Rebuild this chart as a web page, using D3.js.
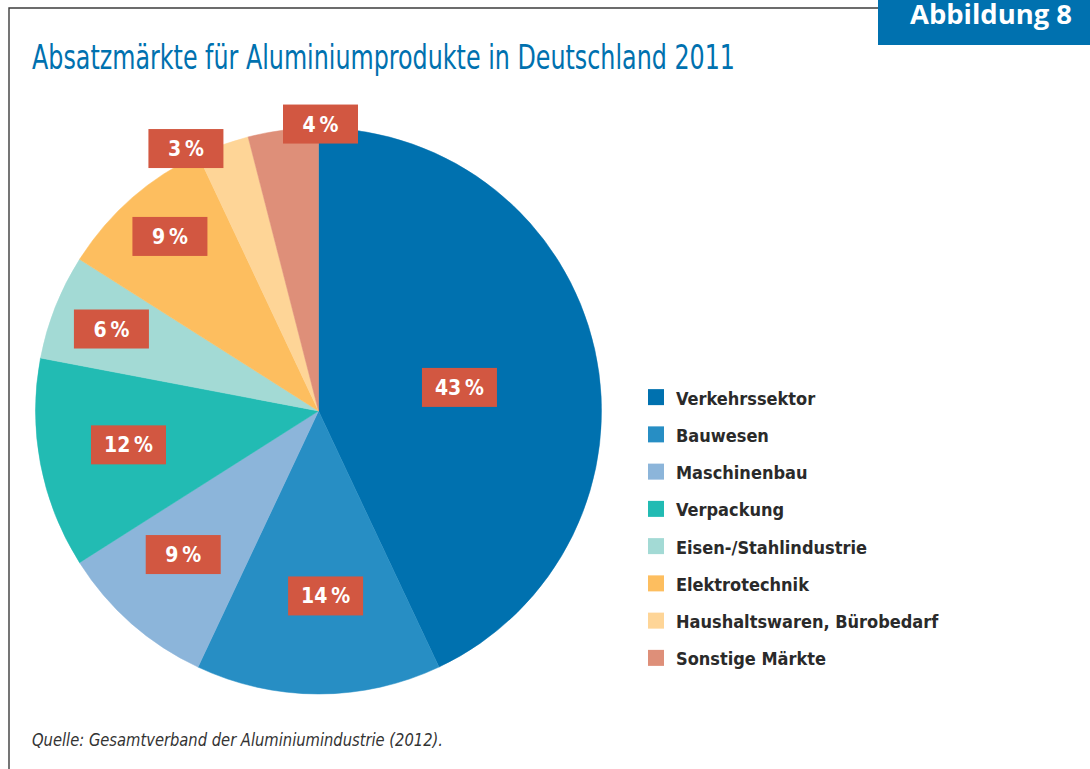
<!DOCTYPE html>
<html>
<head>
<meta charset="utf-8">
<script src="https://cdn.jsdelivr.net/npm/d3@7"></script>
<style>
  html, body { margin: 0; padding: 0; background: #fff; }
  svg { display: block; }
</style>
</head>
<body>
<svg id="chart" width="1090" height="769"></svg>
<script>
// ---- Data ----
const categories = [
  "Verkehrssektor",
  "Bauwesen",
  "Maschinenbau",
  "Verpackung",
  "Eisen-/Stahlindustrie",
  "Elektrotechnik",
  "Haushaltswaren, Bürobedarf",
  "Sonstige Märkte"
];
const values = [43, 14, 9, 12, 6, 9, 3, 4];
const colors = ["#0071AF", "#278EC4", "#8CB5DA", "#22BBB3", "#A3DAD5", "#FDBE5F", "#FED597", "#DE8F79"];
const titleText = "Absatzmärkte für Aluminiumprodukte in Deutschland 2011";
const sourceText = "Quelle: Gesamtverband der Aluminiumindustrie (2012).";
const figureText = "Abbildung 8";

// ---- Layout (label placement, fraction of radius / angle shift in degrees) ----
const labelRadius = [0.505, 0.654, 0.697, 0.682, 0.787, 0.81, 1.039, 1.014];
const labelAngleShift = [3.1, -2.2, 1.9, 0.7, 0, 1.0, -7, 7.6];

const svg = d3.select("#chart");
const cx = 318.5, cy = 411, R = 283;
const condensed = "'Liberation Sans Narrow', 'DejaVu Sans Condensed', 'Open Sans', sans-serif";

// Frame
svg.append("path")
  .attr("d", `M9,769 L9,8 L878,8`)
  .attr("fill", "none")
  .attr("stroke", "#3c3c3c")
  .attr("stroke-width", 1.4);

// Figure tag
svg.append("rect").attr("x", 878).attr("y", 0).attr("width", 212).attr("height", 45).attr("fill", "#0071AF");
svg.append("text")
  .attr("x", 910).attr("y", 24)
  .attr("font-family", "'Open Sans', sans-serif")
  .attr("font-weight", "bold")
  .attr("font-size", 26)
  .attr("fill", "#fff")
  .attr("textLength", 162)
  .attr("lengthAdjust", "spacingAndGlyphs")
  .text(figureText);

// Title
svg.append("text")
  .attr("x", 32).attr("y", 69)
  .attr("font-family", condensed)
  .attr("font-size", 33)
  .attr("fill", "#0071AF")
  .attr("textLength", 703)
  .attr("lengthAdjust", "spacingAndGlyphs")
  .text(titleText);

// Pie
const pie = d3.pie().sort(null).value(d => d.value);
const arcs = pie(values.map((v, i) => ({ value: v, name: categories[i], color: colors[i] })));
const arc = d3.arc().innerRadius(0).outerRadius(R);
const g = svg.append("g").attr("transform", `translate(${cx},${cy})`);

g.selectAll("path.slice")
  .data(arcs)
  .join("path")
  .attr("class", "slice")
  .attr("d", arc)
  .attr("fill", d => d.data.color)
  .attr("stroke", d => d.data.color)
  .attr("stroke-width", 0.5);

// Labels
const boxW = 75, boxH = 39;
const lbl = g.selectAll("g.lbl")
  .data(arcs)
  .join("g")
  .attr("class", "lbl")
  .attr("transform", (d, i) => {
    const a = (d.startAngle + d.endAngle) / 2 + labelAngleShift[i] * Math.PI / 180;
    const r = R * labelRadius[i];
    return `translate(${r * Math.sin(a)},${-r * Math.cos(a)})`;
  });
lbl.append("rect")
  .attr("x", -boxW / 2).attr("y", -boxH / 2)
  .attr("width", boxW).attr("height", boxH)
  .attr("fill", "#D25741");
lbl.append("text")
  .attr("text-anchor", "middle")
  .attr("y", 7.5)
  .attr("font-family", condensed)
  .attr("font-weight", "bold")
  .attr("font-size", 21)
  .attr("fill", "#fff")
  .text(d => `${d.data.value}\u2009%`);

// Legend
const legY = d3.scaleBand().domain(categories).range([379, 677]);
const leg = svg.append("g").selectAll("g")
  .data(categories)
  .join("g")
  .attr("transform", d => `translate(648,${legY(d) + legY.bandwidth() / 2})`);
leg.append("rect")
  .attr("x", 0).attr("y", -8.5)
  .attr("width", 16).attr("height", 16)
  .attr("fill", (d, i) => colors[i]);
leg.append("text")
  .attr("x", 28).attr("y", 7)
  .attr("font-family", condensed)
  .attr("font-weight", "bold")
  .attr("font-size", 18)
  .attr("fill", "#2a2a2a")
  .text(d => d);

// Source
svg.append("text")
  .attr("x", 32).attr("y", 746)
  .attr("font-family", condensed)
  .attr("font-style", "italic")
  .attr("font-size", 18)
  .attr("fill", "#333")
  .attr("textLength", 411)
  .attr("lengthAdjust", "spacingAndGlyphs")
  .text(sourceText);
</script>
</body>
</html>
